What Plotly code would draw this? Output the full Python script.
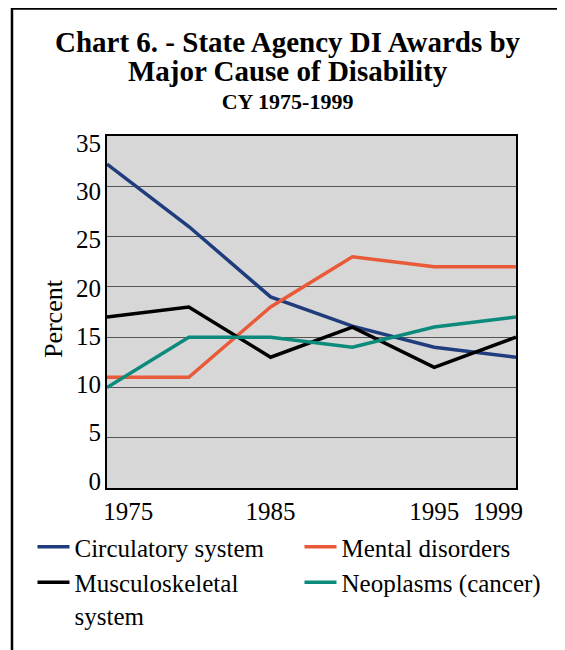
import plotly.graph_objects as go

years = ["1975", "1980", "1985", "1990", "1995", "1999"]
circulatory = [32.2, 26.0, 19.0, 16.1, 14.0, 13.0]
mental = [11.0, 11.0, 18.0, 23.0, 22.0, 22.0]
musculoskeletal = [17.0, 18.0, 13.0, 16.0, 12.0, 15.0]
neoplasms = [10.0, 15.0, 15.0, 14.0, 16.0, 17.0]

series_names = ["Circulatory system", "Mental disorders",
                "Musculoskeletal<br>system", "Neoplasms (cancer)"]
series_values = [circulatory, mental, musculoskeletal, neoplasms]
series_colors = ["#1f3c7d", "#e85a38", "#000000", "#0c8a7b"]
series_legend = ["legend", "legend2", "legend", "legend2"]

tick_labels = ["1975", "1985", "1995", "1999"]
tick_shift = {"1975": 0.26, "1999": -0.22}

y_ticks = [0, 5, 10, 15, 20, 25, 30, 35]

FONT = "Liberation Serif, Times New Roman, serif"

xpos = list(range(len(years)))
tickvals = [years.index(t) + tick_shift.get(t, 0) for t in tick_labels]

fig = go.Figure()
for name, vals, col, leg in zip(series_names, series_values, series_colors, series_legend):
    fig.add_trace(go.Scatter(
        x=xpos, y=vals, mode="lines", name=name, legend=leg,
        line=dict(color=col, width=3.5),
    ))

# empty helper trace so the label-only axis (y2) gets drawn
fig.add_trace(go.Scatter(x=[None], y=[None], yaxis="y2", mode="lines",
                         showlegend=False, hoverinfo="skip"))

legend_common = dict(
    orientation="v", valign="top", yanchor="top", xanchor="left",
    font=dict(family=FONT, size=25, color="black"),
    bgcolor="rgba(0,0,0,0)", tracegroupgap=0, itemwidth=32,
)

fig.update_layout(
    width=557, height=642,
    margin=dict(l=99, r=49, t=128, b=162),
    paper_bgcolor="white",
    plot_bgcolor="#d7d7d7",
    font=dict(family=FONT, size=25, color="black"),
    showlegend=True,
    legend=dict(x=-0.1822, y=-0.1023, **legend_common),
    legend2=dict(x=0.4706, y=-0.1023, **legend_common),
)

fig.update_xaxes(
    range=[0, len(years) - 1],
    tickmode="array", tickvals=tickvals, ticktext=tick_labels,
    showgrid=False, zeroline=False,
    showline=True, linecolor="black", linewidth=1.5, mirror=True,
    ticks="", tickfont=dict(size=25),
)
fig.update_layout(
    yaxis=dict(
        range=[0, 35],
        tickmode="array", tickvals=y_ticks,
        showgrid=True, gridcolor="#555555", gridwidth=1,
        zeroline=False, showticklabels=False,
        showline=True, linecolor="black", linewidth=1.5, mirror=True,
        ticks="",
    ),
    # label-only axis: the printed labels sit on a slightly tighter scale
    yaxis2=dict(
        overlaying="y", side="left", anchor="x",
        range=[-0.725, 35.725],
        tickmode="array", tickvals=y_ticks,
        showgrid=False, zeroline=False, showline=False,
        ticks="", tickfont=dict(size=25), ticklabelstandoff=5,
    ),
)

# Axis title
fig.add_annotation(text="Percent", xref="paper", yref="paper",
                   x=-0.132, y=0.480, xanchor="center", yanchor="middle",
                   textangle=-90, showarrow=False,
                   font=dict(family=FONT, size=26, color="black"))

# Title block
fig.add_annotation(
    text=("<b><span style='font-size:29px'>Chart 6. - State Agency DI Awards by</span>"
          "<br><span style='font-size:29px'>Major Cause of Disability</span>"
          "<br>CY 1975-1999</b>"),
    xref="paper", yref="paper", x=0.4425, y=1.3182,
    xanchor="center", yanchor="top", showarrow=False,
    font=dict(family=FONT, size=22, color="black"))

# Outer frame
fig.add_shape(type="rect", xref="paper", yref="paper",
              x0=-0.2323, x1=1.110, y0=-0.55, y1=1.362,
              line=dict(color="black", width=2.5), fillcolor="rgba(0,0,0,0)",
              layer="below")

fig.write_html("out.html")
